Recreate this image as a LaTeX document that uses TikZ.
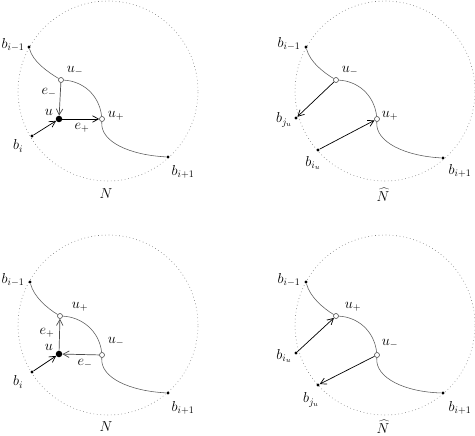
\documentclass[tikz,border=0pt]{standalone}
\usepackage{tikz}
\usetikzlibrary{arrows.meta}

\tikzset{
	bdot/.style={circle,fill=black,inner sep=0pt,minimum size=3.4pt},
	udot/.style={circle,fill=black,inner sep=0pt,minimum size=6.5pt},
	odot/.style={circle,draw=black!70,fill=white,inner sep=0pt,minimum size=5pt,line width=0.6pt},
	lbl/.style={font=\Large,inner sep=0pt},
	rim/.style={gray,line width=0.6pt,dash pattern=on 0.7pt off 2.8pt},
	arcline/.style={black!65,line width=0.55pt},
	edg/.style={-{Straight Barb[length=6pt,width=6.5pt]},line width=0.7pt},
	gedg/.style={edg,black!70}
}

\begin{document}
\begin{tikzpicture}[x=1pt,y=1pt]
	\useasboundingbox (0,0) rectangle (475,-436);

	% first neighbourhood
	\begin{scope}
		\draw[rim] (108,-91) circle[radius=90pt];
		\draw (29,-47) node[bdot] (bima) {}
		(61,-80) node[odot] (uma) {}
		(59,-119) node[udot] (ua) {}
		(102,-119) node[odot] (upa) {}
		(32,-136) node[bdot] (bia) {}
		(168,-157) node[bdot] (bipa) {};
		\draw (13,-45) node[lbl] (lbima) {$b_{i-1}$}
		(75,-71) node[lbl] (luma) {$u_-$}
		(49,-112) node[lbl] (lua) {$u$}
		(116,-116) node[lbl] (lupa) {$u_+$}
		(18,-146) node[lbl] (lbia) {$b_i$}
		(183,-172) node[lbl] (lbipa) {$b_{i+1}$}
		(49,-93) node[lbl] (lema) {$e_-$}
		(82,-128) node[lbl] (lepa) {$e_+$}
		(106,-194) node[lbl] (lna) {$N$};

		\draw[arcline] (bima) .. controls (33,-62) and (48,-72) .. (uma);
		\draw[arcline] (uma) .. controls (82,-81) and (99,-94) .. (upa);
		\draw[arcline] (upa) .. controls (100,-142) and (130,-155) .. (bipa);
		\draw[gedg] (uma) -- (ua);
		\draw[edg] (ua) -- (upa);
		\draw[edg] (bia) -- (ua);
	\end{scope}

	% second neighbourhood
	\begin{scope}[shift={(276,0)}]
		\draw[rim] (109,-91) circle[radius=90pt];
		\draw (30,-47) node[bdot] (bimb) {}
		(60,-80) node[odot] (umb) {}
		(101,-119) node[odot] (upb) {}
		(20,-118) node[bdot] (bjub) {}
		(42,-150) node[bdot] (biub) {}
		(167,-158) node[bdot] (bipb) {};
		\draw (13,-44) node[lbl] (lbimb) {$b_{i-1}$}
		(74,-71) node[lbl] (lumb) {$u_-$}
		(114,-116) node[lbl] (lupb) {$u_+$}
		(8,-120) node[lbl] (lbjub) {$b_{j_u}$}
		(37,-163) node[lbl] (lbiub) {$b_{i_u}$}
		(184,-171) node[lbl] (lbipb) {$b_{i+1}$}
		(107,-195) node[lbl] (lnb) {$\widehat{N}$};

		\draw[arcline] (bimb) .. controls (34,-62) and (47,-72) .. (umb);
		\draw[arcline] (umb) .. controls (81,-81) and (98,-94) .. (upb);
		\draw[arcline] (upb) .. controls (99,-142) and (129,-156) .. (bipb);
		\draw[edg] (umb) -- (bjub);
		\draw[edg] (biub) -- (upb);
	\end{scope}

	% third neighbourhood
	\begin{scope}[shift={(0,-235)}]
		\draw[rim] (108,-90) circle[radius=90pt];
		\draw (30,-47) node[bdot] (bimc) {}
		(60,-81) node[odot] (upc) {}
		(59,-119) node[udot] (uc) {}
		(102,-120) node[odot] (umc) {}
		(32,-137) node[bdot] (bic) {}
		(168,-158) node[bdot] (bipc) {};
		\draw (13,-45) node[lbl] (lbimc) {$b_{i-1}$}
		(80,-72) node[lbl] (lupc) {$u_+$}
		(49,-112) node[lbl] (luc) {$u$}
		(116,-107) node[lbl] (lumc) {$u_-$}
		(18,-147) node[lbl] (lbic) {$b_i$}
		(183,-173) node[lbl] (lbipc) {$b_{i+1}$}
		(47,-98) node[lbl] (lepc) {$e_+$}
		(85,-129) node[lbl] (lemc) {$e_-$}
		(106,-192) node[lbl] (lnc) {$N$};

		\draw[arcline] (bimc) .. controls (34,-62) and (47,-73) .. (upc);
		\draw[arcline] (upc) .. controls (81,-82) and (99,-95) .. (umc);
		\draw[arcline] (umc) .. controls (100,-143) and (130,-156) .. (bipc);
		\draw[gedg] (uc) -- (upc);
		\draw[gedg] (umc) -- (uc);
		\draw[edg] (bic) -- (uc);
	\end{scope}

	% fourth neighbourhood
	\begin{scope}[shift={(276,-235)}]
		\draw[rim] (109,-90) circle[radius=90pt];
		\draw (30,-47) node[bdot] (bimd) {}
		(60,-81) node[odot] (upd) {}
		(101,-120) node[odot] (umd) {}
		(20,-118) node[bdot] (biud) {}
		(42,-150) node[bdot] (bjud) {}
		(167,-158) node[bdot] (bipd) {};
		\draw (13,-45) node[lbl] (lbimd) {$b_{i-1}$}
		(77,-72) node[lbl] (lupd) {$u_+$}
		(114,-109) node[lbl] (lumd) {$u_-$}
		(8,-121) node[lbl] (lbiud) {$b_{i_u}$}
		(35,-165) node[lbl] (lbjud) {$b_{j_u}$}
		(184,-173) node[lbl] (lbipd) {$b_{i+1}$}
		(107,-192) node[lbl] (lnd) {$\widehat{N}$};

		\draw[arcline] (bimd) .. controls (34,-62) and (47,-73) .. (upd);
		\draw[arcline] (upd) .. controls (81,-82) and (98,-95) .. (umd);
		\draw[arcline] (umd) .. controls (99,-143) and (129,-157) .. (bipd);
		\draw[edg] (biud) -- (upd);
		\draw[edg] (umd) -- (bjud);
	\end{scope}
\end{tikzpicture}
\end{document}
